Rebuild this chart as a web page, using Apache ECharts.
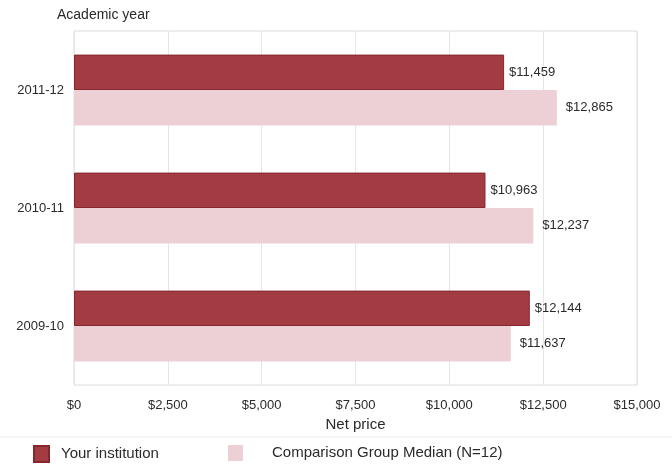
<!DOCTYPE html>
<html>
<head>
<meta charset="utf-8">
<script src="https://cdn.jsdelivr.net/npm/echarts@6/dist/echarts.min.js"></script>
<style>
  html, body { margin: 0; padding: 0; background: #ffffff; }
  #chart { width: 672px; height: 466px; }
</style>
</head>
<body>
<div id="chart"></div>
<script>
// Net price by academic year
const years = ['2011-12', '2010-11', '2009-10'];
const institution = [11459, 10963, 12144];
const comparisonMedian = [12865, 12237, 11637];
const priceTicks = [0, 2500, 5000, 7500, 10000, 12500, 15000];

const FONT = '"Liberation Sans", Arial, Helvetica, sans-serif';
const fmt = v => '$' + Number(v).toLocaleString('en-US');

const chart = echarts.init(document.getElementById('chart'));
chart.setOption({
  animation: false,
  backgroundColor: '#ffffff',
  textStyle: { fontFamily: FONT },
  title: {
    text: 'Academic year',
    left: 57, top: 8, padding: 0,
    textStyle: { fontFamily: FONT, fontSize: 14, fontWeight: 'normal', color: '#2a2a2a' }
  },
  grid: {
    left: 74, right: 35, top: 31, bottom: 81,
    show: true, borderColor: '#dcdcdc', borderWidth: 1, backgroundColor: '#ffffff'
  },
  legend: [
    {
      data: ['Your institution'],
      left: 33, top: 445, padding: 0,
      itemWidth: 15, itemHeight: 16, itemGap: 0,
      icon: 'rect',
      textStyle: { fontFamily: FONT, fontSize: 15, color: '#2a2a2a', padding: [1, 0, 0, 7] }
    },
    {
      data: ['Comparison Group Median (N=12)'],
      left: 228, top: 445, padding: 0,
      itemWidth: 15, itemHeight: 16, itemGap: 0,
      icon: 'rect',
      textStyle: { fontFamily: FONT, fontSize: 15, color: '#2a2a2a', padding: [1, 0, 0, 24] }
    }
  ],
  xAxis: {
    type: 'value',
    min: priceTicks[0],
    max: priceTicks[priceTicks.length - 1],
    interval: priceTicks[1] - priceTicks[0],
    name: 'Net price',
    nameLocation: 'middle',
    nameGap: 31,
    nameTextStyle: { fontFamily: FONT, fontSize: 15, color: '#2a2a2a' },
    axisLine: { show: false },
    axisTick: { show: false },
    axisLabel: { formatter: fmt, fontSize: 13, color: '#2a2a2a', margin: 14 },
    splitLine: { show: true, lineStyle: { color: '#e6e6e6', width: 1 } }
  },
  yAxis: {
    type: 'category',
    data: years,
    inverse: true,
    axisLine: { show: false },
    axisTick: { show: false },
    axisLabel: { fontSize: 13, color: '#2a2a2a', margin: 10 },
    splitLine: { show: false }
  },
  series: [
    {
      name: 'Your institution',
      type: 'bar',
      data: institution,
      barGap: '0%',
      barCategoryGap: '40%',
      itemStyle: { color: '#a33b42', borderColor: '#86262d', borderWidth: 1 },
      label: { show: true, position: 'right', distance: 5, formatter: p => fmt(p.value), fontSize: 13, color: '#2a2a2a' }
    },
    {
      name: 'Comparison Group Median (N=12)',
      type: 'bar',
      data: comparisonMedian,
      itemStyle: { color: '#ecd0d6' },
      label: { show: true, position: 'right', distance: 9, formatter: p => fmt(p.value), fontSize: 13, color: '#2a2a2a' }
    }
  ],
  graphic: [
    {
      type: 'line',
      shape: { x1: 0, y1: 437, x2: 672, y2: 437 },
      style: { stroke: '#ececec', lineWidth: 1 },
      silent: true
    }
  ]
});
</script>
</body>
</html>
